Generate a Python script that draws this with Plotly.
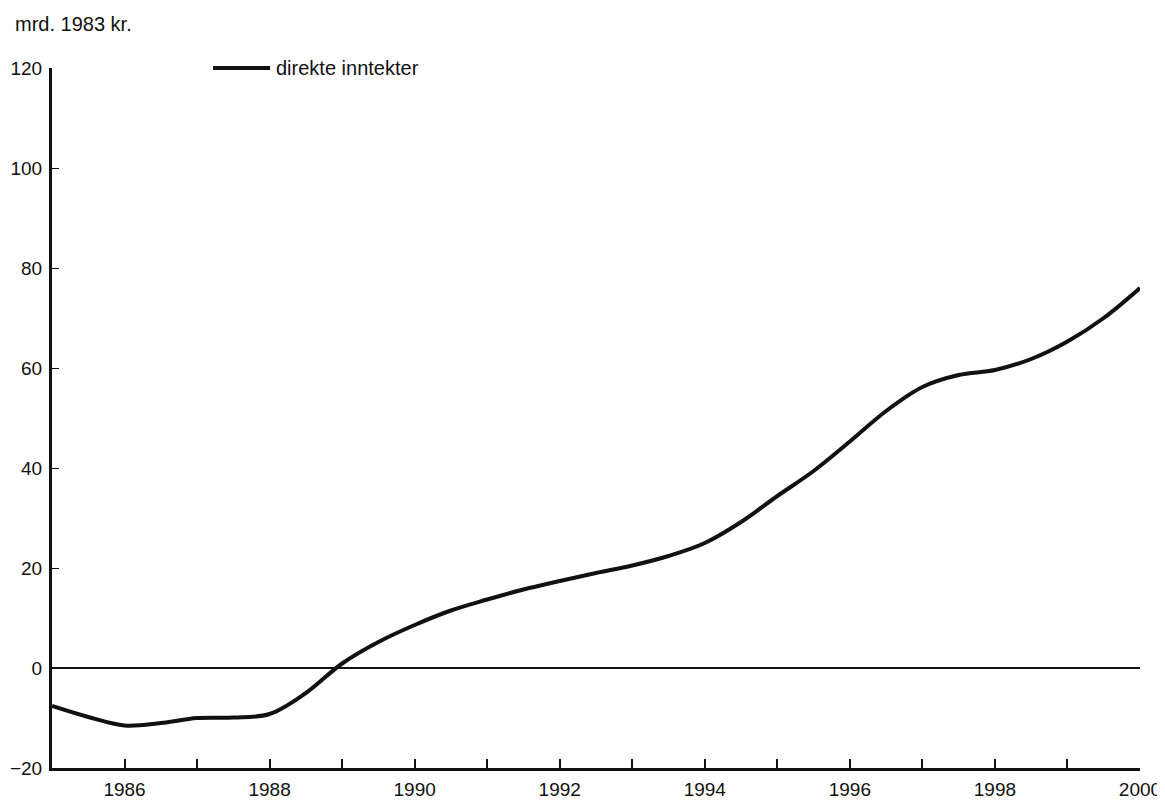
import plotly.graph_objects as go

# Data (mrd. 1983 kr.)
years = [1985.0, 1985.5, 1986.0, 1986.5, 1987.0, 1987.5, 1988.0, 1988.5,
         1989.0, 1989.5, 1990.0, 1990.5, 1991.0, 1991.5, 1992.0, 1992.5,
         1993.0, 1993.5, 1994.0, 1994.5, 1995.0, 1995.5, 1996.0, 1996.5,
         1997.0, 1997.5, 1998.0, 1998.5, 1999.0, 1999.5, 2000.0]
direkte_inntekter = [-7.6, -9.8, -11.5, -11.0, -10.0, -9.9, -9.2, -5.0,
                     0.9, 5.2, 8.6, 11.5, 13.7, 15.7, 17.4, 19.0,
                     20.5, 22.4, 25.0, 29.2, 34.4, 39.4, 45.3, 51.4,
                     56.2, 58.6, 59.6, 61.8, 65.3, 70.0, 76.0]

series_name = "direkte inntekter"
unit_label = "mrd. 1983 kr."
y_ticks = [-20, 0, 20, 40, 60, 80, 100, 120]
x_tick_labels = [1986, 1988, 1990, 1992, 1994, 1996, 1998, 2000]

FONT = "Liberation Sans, Arial, sans-serif"
INK = "#111111"
FS = 20

fig = go.Figure()
fig.add_trace(go.Scatter(
    x=years, y=direkte_inntekter, mode="lines", name=series_name,
    line=dict(color=INK, width=4, shape="spline", smoothing=1.0),
    showlegend=False,
))

# The page adds an 8px body margin, so the figure is 8px smaller on each side
fig.update_layout(
    width=1157, height=793,
    margin=dict(l=44, r=25, t=60, b=33),
    paper_bgcolor="white", plot_bgcolor="white",
    font=dict(family=FONT, size=FS, color=INK),
    xaxis=dict(
        range=[1985, 2000], showgrid=False, zeroline=False, automargin=False,
        showline=True, linecolor=INK, linewidth=2.5,
        tickvals=x_tick_labels, ticktext=[str(v) for v in x_tick_labels],
        ticks="inside", ticklen=9, tickwidth=1.5, tickcolor=INK,
        minor=dict(dtick=1, tick0=1985, ticks="inside", ticklen=9,
                   tickwidth=1.5, tickcolor=INK, showgrid=False),
        ticklabelstandoff=2,
        tickfont=dict(size=19, family=FONT, color=INK),
    ),
    yaxis=dict(
        range=[-20, 120], showgrid=False, automargin=False,
        zeroline=True, zerolinecolor=INK, zerolinewidth=2.2,
        showline=True, linecolor=INK, linewidth=3,
        tickvals=y_ticks, ticks="inside", ticklen=7, tickwidth=1.2,
        tickcolor=INK, ticklabelstandoff=3,
        tickfont=dict(size=19, family=FONT, color=INK),
    ),
)

# Unit label above the y axis
fig.add_annotation(
    text=unit_label, xref="paper", yref="paper",
    x=-0.036, y=1.063, xanchor="left", yanchor="middle",
    showarrow=False, font=dict(size=FS, family=FONT, color=INK),
)

# Legend: sample line + label
fig.add_shape(
    type="line", xref="paper", yref="paper",
    x0=0.148, x1=0.2004, y0=1.0, y1=1.0,
    line=dict(color=INK, width=4),
)
fig.add_annotation(
    text=series_name, xref="paper", yref="paper",
    x=0.2045, y=1.0, xanchor="left", yanchor="middle",
    showarrow=False, font=dict(size=FS, family=FONT, color=INK),
)

fig.write_html("out.html")
